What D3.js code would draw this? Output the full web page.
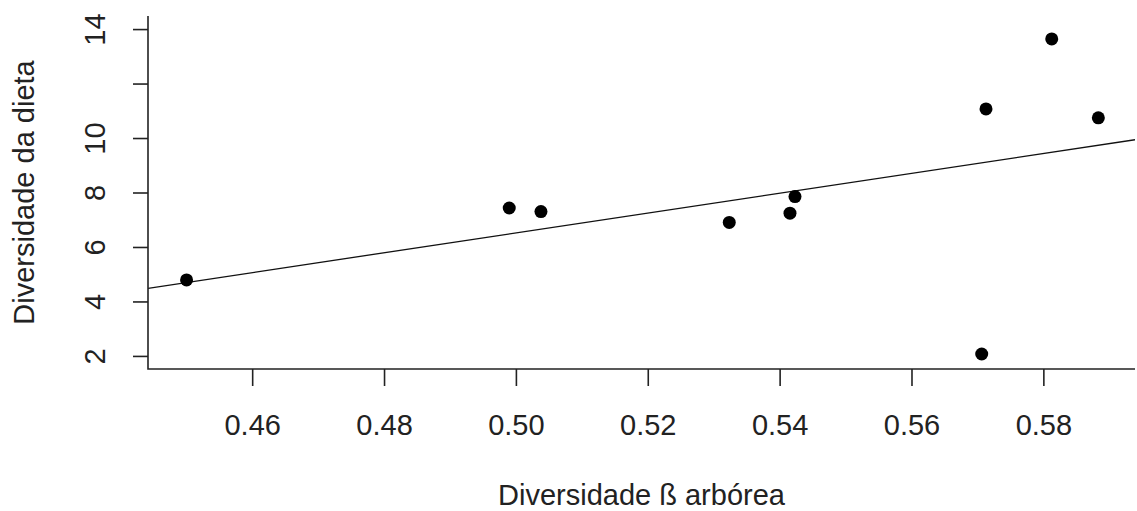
<!DOCTYPE html>
<html>
<head>
<meta charset="utf-8">
<script src="https://cdn.jsdelivr.net/npm/d3@7"></script>
<style>
    body { margin: 0; background: #fff; }
    text { font-family: "Liberation Sans", Arial, sans-serif; fill: #222; }
</style>
</head>
<body>
<div id="chart"></div>
<script>
// beta diversity of trees (x) vs diet diversity (y)
const betaArborea = [0.45005, 0.49899, 0.50380, 0.53236, 0.54157, 0.54233, 0.57130, 0.57065, 0.58127, 0.58834];
const dietaDiv = [4.79, 7.43, 7.30, 6.90, 7.24, 7.85, 11.07, 2.07, 13.64, 10.74];

const xTicks = [0.46, 0.48, 0.50, 0.52, 0.54, 0.56, 0.58];
const xTickLabels = ['0.46', '0.48', '0.50', '0.52', '0.54', '0.56', '0.58'];
const yTicks = [2, 4, 6, 8, 10, 12, 14];
const yTickLabels = ['2', '4', '6', '8', '10', '', '14'];  // 12 gets dropped (overlap)

const xLabel = 'Diversidade ß arbórea';
const yLabel = 'Diversidade da dieta';

function createScatterplot() {
    const width = 1137;
    const height = 511;

    const plot = { left: 148, right: 1135, top: 16, bottom: 369 };

    const svg = d3
        .select('#chart')
        .append('svg')
        .attr('width', width)
        .attr('height', height);

    const xScale = d3.scaleLinear().domain([0.4442, 0.5939]).range([plot.left, plot.right]);
    const yScale = d3.scaleLinear().domain([1.52, 14.48]).range([plot.bottom, plot.top]);

    // least squares fit, like abline(lm(y ~ x))
    const pts = betaArborea.map((x, i) => ({ x, y: dietaDiv[i] }));
    const mx = d3.mean(pts, d => d.x);
    const my = d3.mean(pts, d => d.y);
    const slope = d3.sum(pts, d => (d.x - mx) * (d.y - my)) / d3.sum(pts, d => (d.x - mx) ** 2);
    const intercept = my - slope * mx;

    svg.append('clipPath')
        .attr('id', 'plotclip')
        .append('rect')
        .attr('x', plot.left)
        .attr('y', plot.top)
        .attr('width', plot.right - plot.left)
        .attr('height', plot.bottom - plot.top);

    const [x0, x1] = xScale.domain();
    svg.append('line')
        .attr('clip-path', 'url(#plotclip)')
        .attr('x1', xScale(x0))
        .attr('y1', yScale(intercept + slope * x0))
        .attr('x2', xScale(x1))
        .attr('y2', yScale(intercept + slope * x1))
        .attr('stroke', '#111')
        .attr('stroke-width', 1.3);

    // "L" box
    svg.append('path')
        .attr('d', `M${plot.left},${plot.top}V${plot.bottom}H${plot.right}`)
        .attr('fill', 'none')
        .attr('stroke', '#222')
        .attr('stroke-width', 1.6);

    // x axis
    const xAxis = d3.axisBottom(xScale)
        .tickValues(xTicks)
        .tickFormat((d, i) => xTickLabels[i])
        .tickSize(17)
        .tickPadding(8);

    const gx = svg.append('g')
        .attr('transform', `translate(0, ${plot.bottom})`)
        .call(xAxis);
    gx.select('.domain').remove();
    gx.selectAll('line').attr('stroke', '#222').attr('stroke-width', 1.6);
    gx.selectAll('text')
        .attr('y', 66)
        .attr('dy', null)
        .style('font-size', '29px')
        .attr('fill', '#222');

    // y axis, labels parallel to axis
    const yAxis = d3.axisLeft(yScale)
        .tickValues(yTicks)
        .tickFormat((d, i) => yTickLabels[i])
        .tickSize(15);

    const gy = svg.append('g')
        .attr('transform', `translate(${plot.left}, 0)`)
        .call(yAxis);
    gy.select('.domain').remove();
    gy.selectAll('line').attr('stroke', '#222').attr('stroke-width', 1.6);
    gy.selectAll('text')
        .attr('x', null)
        .attr('dy', null)
        .attr('text-anchor', 'middle')
        .attr('transform', 'translate(-43, 0) rotate(-90)')
        .style('font-size', '29px')
        .attr('fill', '#222');

    // points
    svg.append('g')
        .selectAll('circle')
        .data(pts)
        .join('circle')
        .attr('cx', d => xScale(d.x))
        .attr('cy', d => yScale(d.y))
        .attr('r', 6.5)
        .attr('fill', '#000');

    // axis titles
    svg.append('text')
        .attr('x', (plot.left + plot.right) / 2)
        .attr('y', 505)
        .attr('text-anchor', 'middle')
        .style('font-size', '29px')
        .text(xLabel);

    svg.append('text')
        .attr('transform', `translate(34, ${(plot.top + plot.bottom) / 2}) rotate(-90)`)
        .attr('text-anchor', 'middle')
        .style('font-size', '29px')
        .text(yLabel);
}

document.addEventListener('DOMContentLoaded', () => {
    createScatterplot();
});
</script>
</body>
</html>
